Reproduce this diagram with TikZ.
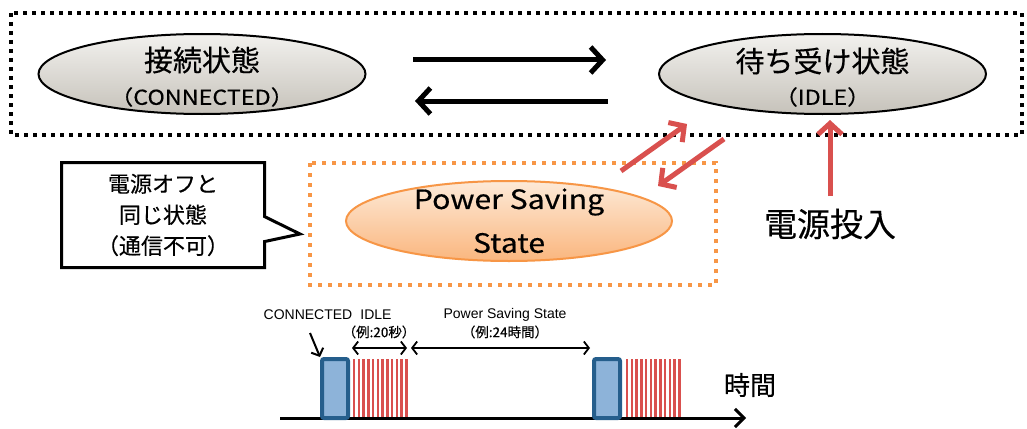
\documentclass[tikz,border=0pt]{standalone}
\usepackage{fontspec}
\setmainfont{Noto Sans CJK JP}[FakeBold=0.4]
\newfontfamily\arialf{Liberation Sans}
\newfontfamily\jp{Noto Sans CJK JP}[FakeBold=0.3]
\newfontfamily\wide{Noto Sans CJK JP}[FakeStretch=1.14,FakeBold=0.4]
\usetikzlibrary{shapes.geometric,shapes.callouts,arrows.meta}
\definecolor{redarr}{RGB}{217,80,78}
\definecolor{orangeb}{RGB}{247,150,70}
\definecolor{orangetop}{RGB}{253,234,216}
\definecolor{orangebot}{RGB}{250,182,126}
\definecolor{graytop}{RGB}{242,241,238}
\definecolor{graybot}{RGB}{198,194,186}
\definecolor{blueb}{RGB}{37,94,140}
\definecolor{bluef}{RGB}{141,179,217}
\tikzset{
  stateell/.style={ellipse, draw=black, line width=2, top color=graytop, bottom color=graybot, minimum width=327, minimum height=80, inner sep=0},
  psell/.style={ellipse, draw=orangeb, line width=2, top color=orangetop, bottom color=orangebot, minimum width=326, minimum height=80, inner sep=0},
  bigarr/.style={line width=5, -{Straight Barb[length=12,width=26]}},
  redarrow/.style={redarr, line width=5, -{Straight Barb[length=11,width=24]}},
  thinarr/.style={line width=1.8, {Straight Barb[length=5,width=13]}-{Straight Barb[length=5,width=13]}},
  bluebox/.style={draw=blueb, fill=bluef, line width=4, rounded corners=2, minimum width=26, minimum height=59, inner sep=0},
  pulse/.style={redarr, line width=2.5},
  tl/.style={font=\arialf\fontsize{14}{16}\selectfont, inner sep=0},
  tlj/.style={font=\jp\fontsize{13.5}{14}\selectfont, inner sep=0},
}
\begin{document}
\begin{tikzpicture}[x=1pt,y=-1pt]
\useasboundingbox (0,0) rectangle (1027,428);
\fill[white] (0,0) rectangle (1027,428);
% outer dotted frame
\draw[line width=4, dash pattern=on 4pt off 5pt] (11,13) rectangle (1022,135);
% state ellipses
\node[stateell] (conn) at (202,74) {};
\node[stateell] (idle) at (822.5,74) {};
\node[inner sep=0, font=\fontsize{29}{30}\selectfont] (connj) at (202,60) {接続状態};
\node[inner sep=0, font=\wide\fontsize{20.5}{22}\selectfont] (conne) at (202,97) {（CONNECTED）};
\node[inner sep=0, font=\fontsize{29}{30}\selectfont] (idlej) at (822.5,61) {待ち受け状態};
\node[inner sep=0, font=\wide\fontsize{20.5}{22}\selectfont] (idlee) at (822.5,97) {（IDLE）};
% black arrows
\coordinate (a1s) at (413,60);
\coordinate (a1e) at (606,60);
\coordinate (a2s) at (608,101);
\coordinate (a2e) at (415,101);
\draw[bigarr] (a1s) -- (a1e);
\draw[bigarr] (a2s) -- (a2e);
% orange dotted frame
\draw[orangeb, line width=4, dash pattern=on 4pt off 6pt] (310,163) rectangle (716,285);
\node[psell] (ps) at (509,221) {};
\node[inner sep=0, font=\wide\fontsize{26.5}{28}\selectfont] (ps1) at (509,202) {Power Saving};
\node[inner sep=0, font=\wide\fontsize{26.5}{28}\selectfont] (ps2) at (509,243) {State};
% red arrows
\coordinate (r1s) at (621,171);
\coordinate (r1e) at (687,124);
\coordinate (r2s) at (724,139);
\coordinate (r2e) at (658,186);
\draw[redarrow] (r1s) -- (r1e);
\draw[redarrow] (r2s) -- (r2e);
% power on
\node[inner sep=0, font=\fontsize{33}{34}\selectfont] (pon) at (830,224) {電源投入};
\coordinate (ponTip) at (830,120);
\draw[redarrow] (830,196) -- (ponTip);
% callout
\node[rectangle callout, draw=black, line width=3, minimum width=203, minimum height=105, inner sep=0,
      callout absolute pointer={(300,234)}, callout pointer width=25, align=center,
      font=\fontsize{22}{31}\selectfont] (call) at (163,215) {電源オフと\\同じ状態\\（通信不可）};
% timeline
\coordinate (t0) at (280,418);
\coordinate (t1) at (746,418);
\draw[line width=3, -{Straight Barb[length=9,width=18]}] (t0) -- (t1);
\node[inner sep=0, font=\fontsize{26}{28}\selectfont] (jikan) at (750,385) {時間};
\foreach \i in {0,...,11} {
  \draw[pulse] (354+\i*4.75,359) -- (354+\i*4.75,417);
  \draw[pulse] (627+\i*4.75,359) -- (627+\i*4.75,417);
}
\node[bluebox] (b1) at (335,388.5) {};
\node[bluebox] (b2) at (607,388.5) {};
% labels
\node[tl] (lc) at (308,315) {CONNECTED};
\node[tl] (li) at (376,315) {IDLE};
\node[tlj] (l20) at (379,332) {（例:20秒）};
\node[tl] (lps) at (505,315) {Power Saving State};
\node[tlj] (l24) at (505,332) {（例:24時間）};
\coordinate (cs) at (310,333);
\draw[line width=2, -{Straight Barb[length=6,width=13]}] (cs) -- (b1.north west);
\coordinate (d1) at (352,348);
\coordinate (d2) at (407,348);
\coordinate (d3) at (411,348);
\coordinate (d4) at (590,348);
\draw[thinarr] (d1) -- (d2);
\draw[thinarr] (d3) -- (d4);
\end{tikzpicture}
\end{document}
